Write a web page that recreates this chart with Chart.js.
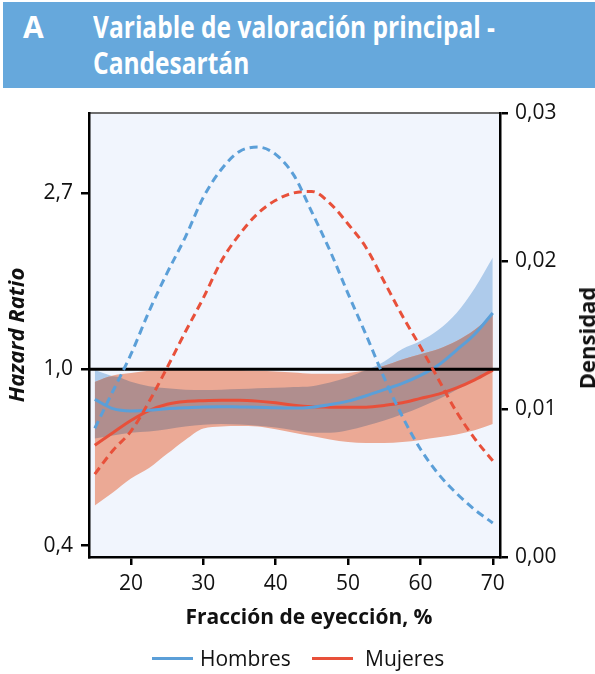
<!DOCTYPE html>
<html>
<head>
<meta charset="utf-8">
<script src="https://cdn.jsdelivr.net/npm/chart.js@4.4.1/dist/chart.umd.min.js"></script>
<style>
  body { margin: 0; background: #fff; font-family: "Open Sans", sans-serif; color: #111; }
  #wrap { position: relative; width: 595px; height: 674px; overflow: hidden; }
  #chart { position: absolute; left: 0; top: 0; }
  #header { position: absolute; left: 3px; top: 2px; width: 592px; height: 86px; background: #66a8dc; color: #fff; font-weight: 700; font-size: 30px; }
  #header .letter { position: absolute; left: 20px; top: 7px; line-height: 36px; }
  #header .title { position: absolute; left: 90px; top: 7px; line-height: 36px; white-space: nowrap; transform-origin: 0 0; }
  #densTitle { position: absolute; left: 586px; top: 338px; font-weight: 700; font-size: 22px; transform: translate(-50%, -50%) rotate(-90deg); white-space: nowrap; }
  #xTitle { position: absolute; left: 309px; top: 616px; font-weight: 700; font-size: 21px; transform: translate(-50%, -50%); white-space: nowrap; }
  #legend { position: absolute; top: 644px; left: 0; width: 595px; font-size: 21px; }
  #legend span.sw { position: absolute; top: 13px; width: 41px; height: 3px; }
  #legend span.lb { position: absolute; top: 0; }
</style>
</head>
<body>
<div id="wrap">
  <canvas id="chart" width="595" height="674"></canvas>
  <div id="header">
    <span class="letter">A</span>
    <div class="title" id="titleText">Variable de valoración principal -<br>Candesartán</div>
  </div>
  <div id="densTitle">Densidad</div>
  <div id="xTitle">Fracción de eyección, %</div>
  <div id="legend">
    <span class="sw" style="left:152px;background:#5b9fd8"></span><span class="lb" style="left:200px">Hombres</span>
    <span class="sw" style="left:312px;background:#e8503a"></span><span class="lb" style="left:365px">Mujeres</span>
  </div>
</div>
<script>
// fraccion de eyeccion (%)
const fe = [15, 17.5, 20, 22.5, 25, 27.5, 30, 32.5, 35, 37.5, 40, 42.5, 45, 47.5, 50, 52.5, 55, 57.5, 60, 62.5, 65, 67.5, 70];

// hazard ratio, hombres
const hrHombres = [0.843, 0.80, 0.79, 0.793, 0.80, 0.804, 0.808, 0.809, 0.808, 0.807, 0.804, 0.803, 0.807, 0.819, 0.835, 0.861, 0.891, 0.923, 0.966, 1.025, 1.116, 1.221, 1.377];
const hrHombresSup = [0.996, 0.961, 0.932, 0.909, 0.898, 0.891, 0.889, 0.891, 0.894, 0.898, 0.901, 0.905, 0.909, 0.928, 0.956, 0.995, 1.046, 1.122, 1.174, 1.252, 1.377, 1.584, 1.887];
const hrHombresInf = [0.675, 0.687, 0.698, 0.703, 0.712, 0.723, 0.73, 0.733, 0.731, 0.726, 0.719, 0.708, 0.698, 0.698, 0.708, 0.726, 0.748, 0.775, 0.807, 0.844, 0.891, 0.942, 1.0];

// hazard ratio, mujeres
const hrMujeres = [0.65, 0.698, 0.748, 0.791, 0.82, 0.833, 0.837, 0.839, 0.839, 0.835, 0.827, 0.816, 0.809, 0.807, 0.806, 0.807, 0.815, 0.827, 0.848, 0.869, 0.90, 0.942, 0.996];
const hrMujeresSup = [0.931, 0.966, 0.98, 0.992, 0.997, 1.0, 1.0, 1.0, 0.997, 0.992, 0.988, 0.982, 0.975, 0.975, 0.98, 0.995, 1.02, 1.057, 1.089, 1.122, 1.174, 1.252, 1.363];
const hrMujeresInf = [0.462, 0.497, 0.538, 0.571, 0.619, 0.67, 0.715, 0.723, 0.725, 0.723, 0.712, 0.698, 0.685, 0.672, 0.662, 0.658, 0.658, 0.662, 0.67, 0.68, 0.691, 0.708, 0.733];

// densidad
const densHombres = [0.0087, 0.0112, 0.0137, 0.0166, 0.0192, 0.0216, 0.0243, 0.0262, 0.0274, 0.0277, 0.0272, 0.0258, 0.0233, 0.0207, 0.0178, 0.0150, 0.0121, 0.0095, 0.0073, 0.0056, 0.0043, 0.0032, 0.0023];
const densMujeres = [0.0056, 0.0072, 0.0085, 0.0105, 0.0128, 0.0152, 0.0175, 0.0200, 0.0218, 0.0232, 0.0241, 0.0246, 0.0247, 0.0239, 0.0225, 0.0209, 0.0186, 0.0163, 0.0142, 0.0120, 0.0098, 0.0080, 0.0065];

const xTicks = [20, 30, 40, 50, 60, 70];
const hrTicks = [Math.exp(-1), 1, Math.E];   // etiquetas 0,4 / 1,0 / 2,7
const refHR = 1;

const azul = '#5b9fd8', rojo = '#e8503a';

// zona donde se solapan los dos intervalos
const solapeSup = fe.map((x, i) => Math.min(hrHombresSup[i], hrMujeresSup[i]));
const solapeInf = fe.map((x, i) => Math.max(hrHombresInf[i], hrMujeresInf[i]));

const pts = arr => fe.map((x, i) => ({x: x, y: arr[i]}));
const coma = s => s.replace('.', ',');

const hidden = {borderColor: 'transparent', borderWidth: 0, pointRadius: 0, yAxisID: 'y', cubicInterpolationMode: 'monotone'};

const fondo = {
  id: 'fondo',
  beforeDraw(chart) {
    const {ctx, chartArea: a} = chart;
    ctx.save();
    ctx.fillStyle = '#f1f5fd';
    ctx.fillRect(a.left, a.top, a.right - a.left, a.bottom - a.top);
    ctx.strokeStyle = '#6e6e6e';
    ctx.lineWidth = 2;
    ctx.beginPath();
    ctx.moveTo(a.left, a.top);
    ctx.lineTo(a.right, a.top);
    ctx.stroke();
    ctx.restore();
  }
};

const ejeNegro = {
  display: true,
  drawOnChartArea: false,
  drawTicks: true,
  tickLength: 8,
  color: '#000',
  lineWidth: 2.5
};

new Chart('chart', {
  type: 'line',
  data: {
    datasets: [
      {label: 'densH', data: pts(densHombres), yAxisID: 'y2', borderColor: azul, borderWidth: 3, borderDash: [8, 5], pointRadius: 0, cubicInterpolationMode: 'monotone', order: 0},
      {label: 'densM', data: pts(densMujeres), yAxisID: 'y2', borderColor: rojo, borderWidth: 3, borderDash: [8, 5], pointRadius: 0, cubicInterpolationMode: 'monotone', order: 0},
      {label: 'ref', data: [{x: 14.2, y: refHR}, {x: 71, y: refHR}], yAxisID: 'y', borderColor: '#000', borderWidth: 3, pointRadius: 0, order: 1},
      {label: 'Hombres', data: pts(hrHombres), yAxisID: 'y', borderColor: azul, borderWidth: 3, pointRadius: 0, cubicInterpolationMode: 'monotone', order: 2},
      {label: 'Mujeres', data: pts(hrMujeres), yAxisID: 'y', borderColor: rojo, borderWidth: 3, pointRadius: 0, cubicInterpolationMode: 'monotone', order: 2},
      {...hidden, label: 'hSup', data: pts(hrHombresSup), order: 5},
      {...hidden, label: 'hInf', data: pts(hrHombresInf), fill: 5, backgroundColor: '#aecbeb', order: 5},
      {...hidden, label: 'mSup', data: pts(hrMujeresSup), order: 4},
      {...hidden, label: 'mInf', data: pts(hrMujeresInf), fill: 7, backgroundColor: '#eba995', order: 4},
      {...hidden, label: 'sSup', data: pts(solapeSup), order: 3},
      {...hidden, label: 'sInf', data: pts(solapeInf), fill: 9, backgroundColor: '#b08e8e', order: 3}
    ]
  },
  options: {
    responsive: false,
    animation: false,
    layout: {padding: {top: 113, left: 0, right: 0, bottom: 0}},
    plugins: {legend: {display: false}, tooltip: {enabled: false}},
    scales: {
      x: {
        type: 'linear',
        min: 14.2,
        max: 71,
        bounds: 'data',
        afterBuildTicks: s => { s.ticks = xTicks.map(v => ({value: v})); },
        afterFit: s => { s.height = 117; },
        grid: ejeNegro,
        border: {display: true, color: '#000', width: 2.5},
        ticks: {color: '#111', font: {family: 'Open Sans', size: 21}, padding: 6, maxRotation: 0}
      },
      y: {
        type: 'logarithmic',
        position: 'left',
        min: Math.exp(-1.065),
        max: Math.exp(1.455),
        bounds: 'data',
        afterBuildTicks: s => { s.ticks = hrTicks.map(v => ({value: v})); },
        afterFit: s => { s.width = 89; },
        grid: ejeNegro,
        border: {display: true, color: '#000', width: 2.5},
        ticks: {color: '#111', font: {family: 'Open Sans', size: 21}, padding: 8, callback: v => coma(v.toFixed(1))},
        title: {display: true, text: 'Hazard Ratio', color: '#111', font: {family: 'Open Sans', size: 22, weight: 'bold', style: 'italic'}, padding: {top: 5, bottom: 0}}
      },
      y2: {
        type: 'linear',
        position: 'right',
        min: 0,
        max: 0.03,
        bounds: 'data',
        afterFit: s => { s.width = 95; },
        grid: ejeNegro,
        border: {display: true, color: '#000', width: 2.5},
        ticks: {stepSize: 0.01, color: '#111', font: {family: 'Open Sans', size: 21}, padding: 7, callback: v => coma(v.toFixed(2))}
      }
    }
  },
  plugins: [fondo]
});

// encajar el titulo en el ancho del original
const t = document.getElementById('titleText');
const ancho = t.getBoundingClientRect().width;
t.style.transform = 'scaleX(' + (402 / ancho) + ')';
</script>
</body>
</html>
